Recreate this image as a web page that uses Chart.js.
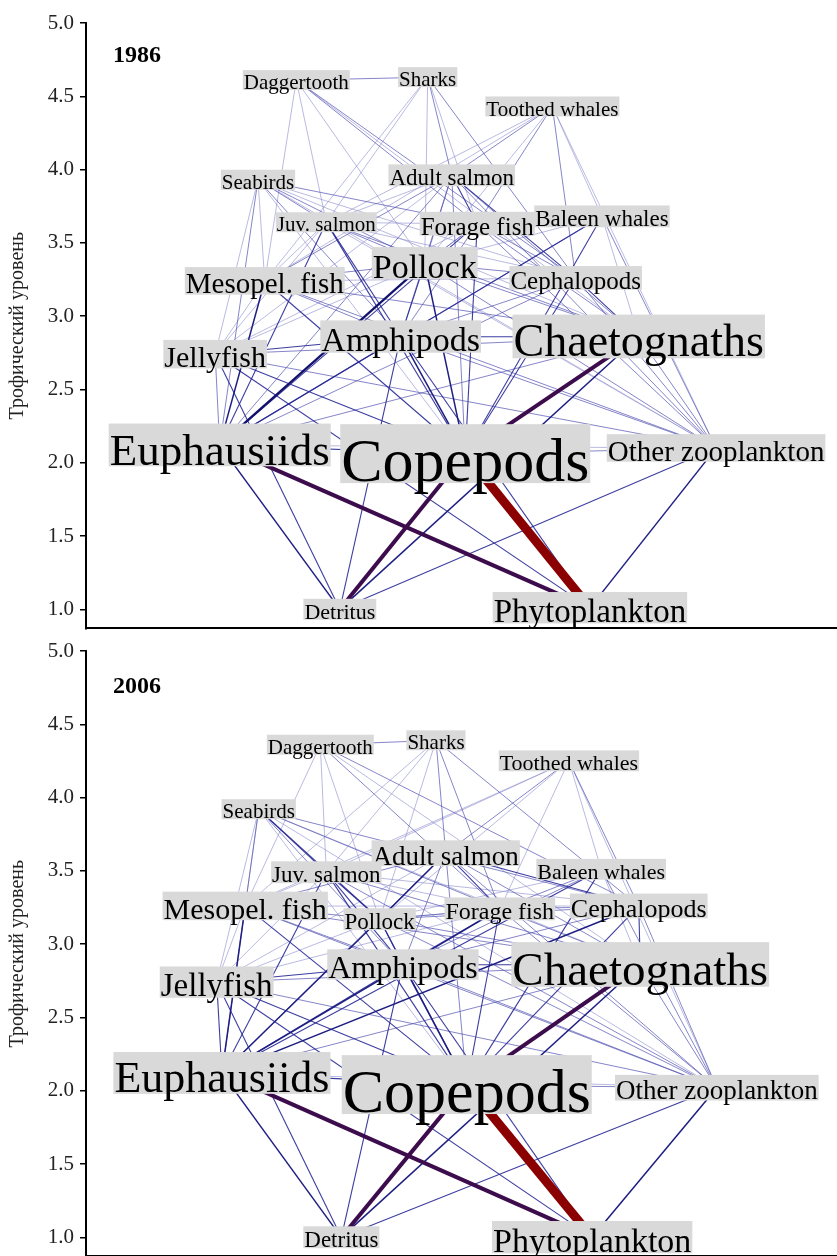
<!DOCTYPE html>
<html><head><meta charset="utf-8">
<script src="https://cdn.jsdelivr.net/npm/chart.js@4/dist/chart.umd.min.js"></script>
<style>
body{margin:0;background:#fff;width:837px;height:1256px;overflow:hidden;position:relative}
.p{position:absolute;left:0;width:837px;height:647px}
</style></head><body>
<div class="p" style="top:0"><canvas id="c1" width="837" height="647"></canvas></div>
<div class="p" style="top:628px"><canvas id="c2" width="837" height="647"></canvas></div>
<script>
const nodeNames = ["Daggertooth","Sharks","Toothed whales","Seabirds","Adult salmon","Juv. salmon","Forage fish","Baleen whales","Pollock","Mesopel. fish","Cephalopods","Jellyfish","Amphipods","Chaetognaths","Euphausiids","Copepods","Other zooplankton","Detritus","Phytoplankton"];
const years = ["1986","2006"];
const yTicks = [1.0,1.5,2.0,2.5,3.0,3.5,4.0,4.5,5.0];
const yTitle = "Трофический уровень";

// node horizontal position (0-100) and trophic level
const x1986  = [28.0,45.5,62.1,22.9,48.7,32.0,52.1,68.7,45.1,23.8,65.2,17.2,41.9,73.6,17.8,50.5,83.9,33.8,67.1];
const tl1986 = [4.61,4.63,4.43,3.93,3.96,3.64,3.63,3.68,3.36,3.24,3.26,2.74,2.86,2.86,2.12,2.06,2.10,1.00,1.01];
const size1986 = [21,21,21,21,23,21,25,23,34,29,25,30,34,46,45,62,29,22,33];

const x2006  = [31.2,46.6,64.3,23.0,47.9,32.0,55.1,68.6,39.1,21.2,73.6,17.4,42.2,73.8,18.1,50.7,84.0,34.0,67.4];
const tl2006 = [4.36,4.39,4.25,3.92,3.62,3.49,3.24,3.51,3.17,3.26,3.26,2.74,2.86,2.86,2.12,2.04,2.02,1.00,1.00];
const size2006 = [21,21,22,21,27,23,24,22,23,30,26,33,32,47,44,62,27,23,34];

// links: predator, prey, flow class 1986, flow class 2006 (0 = none)
const edgePred = [1,1,1,1,1,1,1, 0,0,0,0,0,0, 2,2,2,2,2,2,2,2, 3,3,3,3,3,3,3,3,3,3,3, 4,4,4,4,4,4,4,4,4,4,4, 5,5,5,5,5,5,5,5,5, 6,6,6,6,6,6,6, 7,7,7,7,7,7,7, 8,8,8,8,8,8,8,8,8, 9,9,9,9,9,9, 10,10,10,10,10,10,10,10, 11,11,11,11,11,11,11, 12,12,12,12,12,12, 13,13,13,13, 14,14,14,14, 15,15,15, 16,16];
const edgePrey = [0,4,8,6,10,9,5, 9,5,6,10,13,8, 4,6,10,8,9,5,7,16, 9,11,5,8,12,6,10,14,15,16,13, 6,8,10,14,12,15,5,9,13,16,11, 14,15,12,16,13,11,6,8,9, 15,14,12,13,16,11,8, 14,15,6,12,16,8,13, 14,15,12,13,16,6,9,11,10, 14,15,12,13,16,11, 14,15,12,13,6,16,9,5, 15,14,12,16,13,17,18, 15,14,18,17,16,13, 15,17,14,16, 18,17,15,16, 18,17,16, 18,17];
const flow1986 = [2,2,1,1,2,1,1, 1,1,2,2,1,1, 2,2,2,1,1,1,1,1, 1,1,2,2,2,2,1,2,1,1,1, 3,2,3,2,2,2,1,2,2,2,1, 3,3,3,1,2,1,1,2,1, 3,3,2,2,2,1,1, 3,3,2,2,2,1,1, 5,4,3,2,2,2,2,1,2, 4,3,2,2,2,1, 2,3,2,3,2,2,1,1, 3,2,3,2,2,3,3, 4,3,3,3,2,3, 6,4,2,2, 6,4,3,1, 7,6,2, 4,3];
const flow2006 = [2,2,1,2,2,1,1, 1,1,2,2,1,1, 2,1,2,1,1,1,1,1, 1,1,3,3,2,2,2,2,1,1,1, 3,4,3,2,2,2,1,2,2,2,1, 3,3,3,2,2,1,1,3,1, 3,4,2,2,2,1,1, 3,3,2,2,2,1,1, 4,3,3,2,2,2,2,1,2, 4,3,2,2,2,1, 4,3,2,3,2,2,1,1, 3,3,3,2,2,3,3, 4,3,3,3,2,3, 6,4,2,2, 6,4,3,1, 7,6,2, 4,3];

const edgeStyle = {
  1:{c:'rgba(140,140,205,0.75)', w:0.8},
  2:{c:'rgba(85,85,180,0.8)', w:0.9},
  3:{c:'rgba(40,40,150,0.9)', w:1.1},
  4:{c:'#1e1e82', w:1.5},
  5:{c:'#12126c', w:2.2},
  6:{c:'#3c0c4c', w:4},
  7:{c:'#8b0000', w:9}
};
const serif = "'Liberation Serif','Times New Roman',serif";

function buildDatasets(xs, tls, flows){
  const ds = [];
  edgePred.forEach((p,i)=>{
    const lv = flows[i]; if(!lv) return;
    const q = edgePrey[i];
    const st = edgeStyle[lv];
    ds.push({type:'line', data:[{x:xs[p],y:tls[p]},{x:xs[q],y:tls[q]}],
      borderColor:st.c, borderWidth:st.w, pointRadius:0, pointHoverRadius:0,
      fill:false, tension:0, order:10-lv, borderCapStyle:'butt'});
  });
  ds.push({type:'scatter', data: xs.map((x,i)=>({x:x, y:tls[i]})), pointRadius:0, order:100});
  return ds;
}

const labelPlugin = {
  id:'nodeLabels',
  afterDatasetsDraw(chart, args, opts){
    const ctx = chart.ctx;
    const meta = chart.getDatasetMeta(chart.data.datasets.length-1);
    ctx.save();
    meta.data.forEach((pt,i)=>{
      const fs = opts.sizes[i];
      ctx.font = fs+"px "+serif;
      const w = ctx.measureText(nodeNames[i]).width;
      ctx.fillStyle = '#d9d9d9';
      ctx.fillRect(pt.x-w/2-1, pt.y-0.48*fs, w+2, 0.95*fs);
      ctx.fillStyle = '#000';
      ctx.textAlign = 'center';
      ctx.textBaseline = 'alphabetic';
      ctx.fillText(nodeNames[i], pt.x, pt.y+0.43*fs);
    });
    const xs = chart.scales.x, ys = chart.scales.y;
    ctx.font = "bold 24px "+serif;
    ctx.textAlign = 'left';
    ctx.fillStyle = '#000';
    ctx.fillText(opts.year, xs.getPixelForValue(3.6), ys.getPixelForValue(opts.yearTL));
    ctx.restore();
  }
};

function makeChart(id, xs, tls, flows, sizes, year, yearTL){
  new Chart(document.getElementById(id), {
    type:'scatter',
    data:{datasets: buildDatasets(xs, tls, flows)},
    options:{
      responsive:false, animation:false, events:[],
      layout:{padding:{top:23, right:0, bottom:0, left:0}},
      scales:{
        x:{type:'linear', min:0, max:100,
           grid:{display:false, drawTicks:false},
           ticks:{display:false},
           border:{display:true, color:'#000', width:2},
           afterFit(s){ s.height = 0; }},
        y:{type:'linear', min:0.87, max:5,
           afterBuildTicks(s){ s.ticks = yTicks.map(v=>({value:v})); },
           ticks:{font:{family:serif, size:21}, color:'#222', padding:6,
                  callback:(v)=>Number(v).toFixed(1)},
           grid:{display:true, drawOnChartArea:false, drawTicks:true, tickLength:6, color:'#000', lineWidth:1.5},
           border:{display:true, color:'#000', width:2},
           title:{display:true, text:yTitle, font:{family:serif, size:20}, color:'#222', padding:{top:6,bottom:0}},
           afterFit(s){ s.width = 86; }}
      },
      plugins:{legend:{display:false}, tooltip:{enabled:false},
               nodeLabels:{sizes:sizes, year:year, yearTL:yearTL}}
    },
    plugins:[labelPlugin]
  });
}

makeChart('c1', x1986, tl1986, flow1986, size1986, years[0], 4.734);
makeChart('c2', x2006, tl2006, flow2006, size2006, years[1], 4.714);
</script>
</body></html>
